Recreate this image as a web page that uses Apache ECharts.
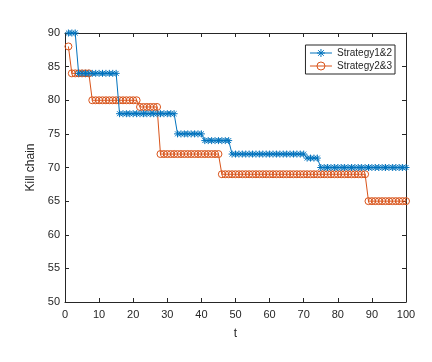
<!DOCTYPE html>
<html>
<head>
<meta charset="utf-8">
<script src="https://cdn.jsdelivr.net/npm/echarts@6/dist/echarts.min.js"></script>
<style>
  html, body { margin: 0; padding: 0; background: #fff; }
  #chart { width: 432px; height: 362px; }
</style>
</head>
<body>
<div id="chart"></div>
<script>
// step runs: each run starts at t and holds its level
const tMax = 100;
const s12Starts = [1, 4, 16, 33, 41, 49, 71, 75];
const s12Levels = [90, 84, 78, 75, 74, 72, 71.4, 70];
const s23Starts = [1, 2, 8, 22, 28, 46, 89];
const s23Levels = [88, 84, 80, 79, 72, 69, 65];

// expand runs into one point per t
function expand(starts, levels) {
  let res = [];
  for (let i = 0; i < starts.length; i++) {
    let end = i + 1 < starts.length ? starts[i + 1] - 1 : tMax;
    for (let t = starts[i]; t <= end; t++) {
      res.push([t, levels[i]]);
    }
  }
  return res;
}

const blue = '#0072BD';
const orange = '#D95319';
const ink = '#262626';
const font = 'Liberation Sans, Arial, sans-serif';
const star = 'path://M0,-1L0,1M-1,0L1,0M-0.7,-0.7L0.7,0.7M-0.7,0.7L0.7,-0.7';

const chart = echarts.init(document.getElementById('chart'));

const baseAxis = {
  axisLine: { onZero: false, lineStyle: { color: ink, width: 1 } },
  axisTick: { inside: true, length: 4, lineStyle: { color: ink } },
  splitLine: { show: false }
};

const labelStyle = { color: ink, fontSize: 11, fontFamily: font };

const option = {
  backgroundColor: '#fff',
  animation: false,
  grid: { left: 65, right: 26, top: 33, bottom: 60 },
  legend: {
    orient: 'vertical',
    right: 37,
    top: 45,
    itemWidth: 22,
    itemHeight: 10,
    itemGap: 3,
    padding: [3, 3, 3, 4],
    borderColor: ink,
    borderWidth: 1,
    backgroundColor: '#fff',
    textStyle: { color: ink, fontSize: 10, fontFamily: font },
    lineStyle: { width: 1 },
    itemStyle: { borderWidth: 1 },
    data: ['Strategy1&2', 'Strategy2&3']
  },
  xAxis: [
    Object.assign({}, baseAxis, {
      type: 'value', min: 0, max: 100, interval: 10,
      name: 't', nameLocation: 'middle', nameGap: 26,
      nameTextStyle: { color: ink, fontSize: 12, fontFamily: font },
      axisLabel: Object.assign({ margin: 7 }, labelStyle)
    }),
    Object.assign({}, baseAxis, {
      type: 'value', min: 0, max: 100, interval: 10, position: 'top',
      axisLabel: { show: false }
    })
  ],
  yAxis: [
    Object.assign({}, baseAxis, {
      type: 'value', min: 50, max: 90, interval: 5,
      name: 'Kill chain', nameLocation: 'middle', nameGap: 25,
      nameTextStyle: { color: ink, fontSize: 12, fontFamily: font },
      axisLabel: Object.assign({ margin: 5 }, labelStyle)
    }),
    Object.assign({}, baseAxis, {
      type: 'value', min: 50, max: 90, interval: 5, position: 'right',
      axisLabel: { show: false }
    })
  ],
  series: [
    {
      name: 'Strategy1&2',
      type: 'line',
      data: expand(s12Starts, s12Levels),
      symbol: star,
      symbolSize: 7,
      showAllSymbol: true,
      lineStyle: { color: blue, width: 1 },
      itemStyle: { color: 'transparent', borderColor: blue, borderWidth: 1 },
      z: 3
    },
    {
      name: 'Strategy2&3',
      type: 'line',
      data: expand(s23Starts, s23Levels),
      symbol: 'circle',
      symbolSize: 7,
      showAllSymbol: true,
      lineStyle: { color: orange, width: 1 },
      itemStyle: { color: 'transparent', borderColor: orange, borderWidth: 1 },
      z: 2
    }
  ]
};

chart.setOption(option);
</script>
</body>
</html>
